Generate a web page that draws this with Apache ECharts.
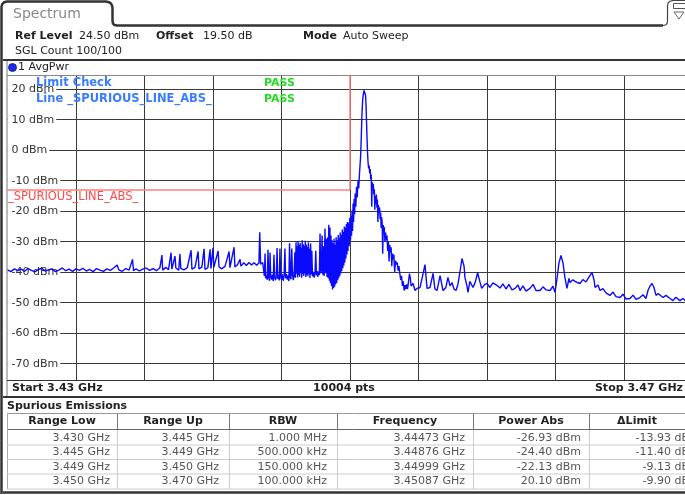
<!DOCTYPE html>
<html>
<head>
<meta charset="utf-8">
<script src="https://cdn.jsdelivr.net/npm/echarts@6/dist/echarts.min.js"></script>
<style>
  html, body { margin: 0; padding: 0; background: #fff; overflow: hidden; }
  #c { width: 700px; height: 495px; }
</style>
</head>
<body>
<div id="c"></div>
<script>
// Sweep: 3.43 GHz .. 3.47 GHz, level axis 24.5 dBm (ref) down 100 dB
const startMHz = 3430;
const stopMHz = 3470;
const refLevel = 24.5;
const levelBottom = -75.5;
const xGridMHz = [3434, 3438, 3442, 3446, 3450, 3454, 3458, 3462, 3466];
const yTicks = [-70, -60, -50, -40, -30, -20, -10, 0, 10, 20];

// Spurious emission ranges and results
const rangeLowGHz = [3.430, 3.445, 3.449, 3.450];
const rangeUpGHz = [3.445, 3.449, 3.450, 3.470];
const rbwLabels = ['1.000 MHz', '500.000 kHz', '150.000 kHz', '100.000 kHz'];
const spurFreqGHz = [3.44473, 3.44876, 3.44999, 3.45087];
const spurPowerDbm = [-26.93, -24.40, -22.13, 20.10];
const rangeLimitDbm = [-13, -13, -13, 30];

// AvgPwr trace [MHz, dBm], 1 MHz RBW range
const traceA = [
  [3430.0,-39.2],[3430.2,-39.8],[3430.4,-38.9],[3430.6,-39.5],[3430.8,-39.0],[3431.0,-39.7],
  [3431.2,-38.8],[3431.4,-39.4],[3431.6,-39.9],[3431.8,-39.1],[3432.0,-38.7],[3432.2,-39.6],
  [3432.4,-39.2],[3432.6,-38.9],[3432.8,-39.8],[3433.0,-39.3],[3433.2,-38.6],[3433.4,-39.5],
  [3433.6,-39.0],[3433.8,-39.7],[3434.0,-38.9],[3434.2,-39.4],[3434.4,-38.7],[3434.6,-39.6],
  [3434.8,-39.1],[3435.0,-39.8],[3435.2,-38.8],[3435.4,-39.3],[3435.6,-39.7],[3435.8,-38.9],
  [3436.0,-39.4],[3436.2,-38.6],[3436.4,-37.6],[3436.5,-39.2],[3436.7,-39.7],[3436.9,-38.8],
  [3437.1,-39.3],[3437.3,-35.8],[3437.36,-39.5],[3437.5,-38.9],[3437.7,-39.6],[3437.9,-39.0],
  [3438.1,-38.6],[3438.3,-39.4],[3438.5,-38.8],[3438.7,-39.5],[3438.9,-38.5],[3439.02,-34.4],
  [3439.06,-39.3],[3439.25,-38.4],[3439.4,-39.2],[3439.55,-33.6],[3439.6,-39.0],[3439.78,-34.7],
  [3439.83,-38.6],[3440.0,-39.3],[3440.07,-34.0],[3440.12,-38.7],[3440.3,-39.2],[3440.5,-38.5],
  [3440.72,-32.8],[3440.77,-39.0],[3440.95,-38.4],[3441.13,-33.2],[3441.18,-38.9],[3441.35,-38.3],
  [3441.48,-32.3],[3441.53,-39.1],[3441.7,-38.5],[3441.83,-32.5],[3441.88,-38.8],[3442.0,-32.0],
  [3442.05,-38.4],[3442.15,-39.0],[3442.3,-33.0],[3442.35,-38.2],[3442.5,-38.9],[3442.7,-38.1],
  [3442.94,-33.2],[3442.99,-38.5],[3443.1,-37.9],[3443.23,-31.8],[3443.28,-38.3],[3443.45,-37.4],
  [3443.58,-35.8],[3443.63,-38.0],[3443.8,-36.9],[3443.95,-37.8],[3444.1,-36.8],[3444.25,-37.6],
  [3444.4,-36.9],[3444.55,-37.7],[3444.68,-37.0],[3444.78,-37.4],[3444.9,-36.8],[3444.98,-37.3]
];

// 500 kHz and 150 kHz RBW ranges
const traceB = [
  [3445.00,-41.2],[3445.04,-33.9],[3445.07,-42.0],[3445.12,-41.0],[3445.17,-42.5],[3445.21,-32.6],
  [3445.25,-41.6],[3445.30,-42.8],[3445.33,-33.5],[3445.37,-41.3],[3445.42,-42.4],[3445.47,-40.8],
  [3445.52,-42.9],[3445.56,-34.3],[3445.60,-41.7],[3445.66,-42.6],[3445.70,-41.0],[3445.74,-32.1],
  [3445.78,-42.2],[3445.83,-40.9],[3445.87,-42.7],[3445.91,-32.2],[3445.95,-41.4],[3446.00,-42.5],
  [3446.05,-40.7],[3446.10,-42.8],[3446.15,-41.2],[3446.20,-32.2],[3446.24,-42.0],[3446.29,-40.6],
  [3446.34,-42.4],[3446.39,-41.1],[3446.43,-42.9],[3446.47,-30.5],[3446.51,-41.5],[3446.55,-42.3],
  [3446.60,-32.2],[3446.64,-40.8],[3446.69,-42.6],[3446.73,-41.0],[3446.78,-33.5],[3446.81,-41.8],
  [3446.85,-30.2],[3446.88,-40.5],[3446.91,-31.5],[3446.94,-41.7],[3446.97,-29.8],[3447.00,-40.9],
  [3447.03,-31.0],[3447.06,-41.5],[3447.09,-30.4],[3447.12,-40.2],[3447.15,-32.0],[3447.18,-41.8],
  [3447.21,-29.5],[3447.24,-40.6],[3447.27,-30.8],[3447.30,-41.2],[3447.33,-31.4],[3447.36,-40.4],
  [3447.39,-29.7],[3447.42,-41.6],[3447.45,-30.9],[3447.48,-40.8],[3447.51,-31.7],[3447.54,-41.3],
  [3447.57,-30.2],[3447.60,-40.5],[3447.63,-32.3],[3447.66,-41.9],[3447.70,-30.6],[3447.73,-40.7],
  [3447.77,-33.0],[3447.81,-41.4],[3447.86,-39.9],[3447.91,-41.8],[3447.96,-40.2],[3448.00,-33.0],
  [3448.04,-41.0],[3448.08,-39.6],[3448.12,-41.5],[3448.16,-39.8],[3448.21,-40.9],[3448.25,-27.3],
  [3448.29,-40.4],[3448.33,-39.2],[3448.37,-28.0],[3448.41,-40.8],[3448.45,-31.5],[3448.49,-41.2],
  [3448.54,-25.7],[3448.58,-40.3],[3448.62,-29.0],[3448.66,-41.6],[3448.70,-28.5],[3448.73,-42.0],
  [3448.80,-42.8],[3448.83,-25.3],[3448.86,-43.6],[3448.89,-28.0],[3448.92,-44.5],[3448.95,-29.5],
  [3448.98,-45.7],[3449.01,-30.5],[3449.04,-45.2],[3449.07,-29.0],[3449.10,-44.8],[3449.13,-31.0],
  [3449.16,-44.0],[3449.19,-28.5],[3449.22,-43.5],[3449.25,-29.5],[3449.28,-42.6],[3449.31,-27.8],
  [3449.34,-42.0],[3449.37,-28.8],[3449.40,-41.2],[3449.43,-27.0],[3449.46,-40.5],[3449.49,-27.8],
  [3449.52,-39.6],[3449.55,-26.0],[3449.58,-38.7],[3449.61,-26.8],[3449.64,-37.8],[3449.67,-25.0],
  [3449.70,-36.8],[3449.73,-25.5],[3449.76,-35.5],[3449.79,-24.2],[3449.82,-34.2],[3449.85,-23.5],
  [3449.88,-33.0],[3449.91,-23.8],[3449.94,-31.5],[3449.97,-29.8]
];

// Carrier and its skirt, 100 kHz RBW range
const traceC = [
  [3450.03,-29.5],[3450.06,-21.5],[3450.09,-28.0],[3450.12,-19.8],[3450.15,-26.5],[3450.18,-17.5],
  [3450.21,-23.5],[3450.24,-16.0],[3450.27,-21.0],[3450.30,-14.2],[3450.34,-18.5],[3450.38,-12.0],
  [3450.42,-15.5],[3450.47,-9.9],[3450.51,-12.5],[3450.55,-8.0],[3450.59,-7.6],[3450.62,-2.0],
  [3450.66,4.5],[3450.70,12.0],[3450.74,16.5],[3450.78,18.5],[3450.82,19.6],[3450.91,18.0],
  [3450.94,14.0],[3450.97,8.5],[3451.00,3.0],[3451.03,-1.5],[3451.06,-4.5],[3451.09,-6.0],
  [3451.12,-5.0],[3451.15,-7.5],[3451.18,-6.2],[3451.21,-9.5],[3451.24,-8.0],[3451.27,-18.5],
  [3451.30,-10.5],[3451.33,-12.8],[3451.36,-11.0],[3451.39,-14.5],[3451.42,-12.8],[3451.45,-19.5],
  [3451.48,-15.0],[3451.51,-17.5],[3451.54,-14.5],[3451.57,-18.8],[3451.60,-16.2],[3451.63,-23.5],
  [3451.66,-18.0],[3451.70,-20.5],[3451.73,-18.8],[3451.76,-22.5],[3451.79,-20.5],[3451.82,-25.5],
  [3451.85,-22.0],[3451.88,-24.0],[3451.91,-33.9],[3451.94,-24.5],[3451.97,-26.8],[3452.00,-25.2],
  [3452.04,-30.0],[3452.08,-27.0],[3452.12,-29.5],[3452.16,-28.0],[3452.20,-33.0],[3452.24,-29.8],
  [3452.28,-36.5],[3452.32,-31.0],[3452.36,-33.5],[3452.40,-31.8],[3452.44,-38.0],[3452.48,-33.9],
  [3452.52,-35.8],[3452.56,-34.2],[3452.61,-40.0],[3452.66,-36.2],[3452.71,-37.5],[3452.76,-36.8],
  [3452.81,-39.5],[3452.86,-38.0],[3452.91,-40.5],[3452.96,-42.5],[3453.01,-41.2],[3453.06,-44.5],
  [3453.11,-43.0],[3453.16,-46.0],[3453.21,-44.2],[3453.26,-45.5],[3453.31,-44.0],[3453.36,-45.5],
  [3453.42,-43.0],[3453.47,-40.5],[3453.52,-41.8],[3453.57,-44.5]
];

// Upper part of the sweep
const traceD = [
  [3453.68,-43.7],[3453.80,-46.0],[3453.91,-45.3],[3454.09,-45.0],[3454.20,-44.5],[3454.38,-37.5],
  [3454.50,-45.3],[3454.67,-45.0],[3454.85,-40.4],[3454.96,-45.5],[3455.08,-46.0],[3455.26,-41.1],
  [3455.43,-46.0],[3455.60,-45.0],[3455.72,-41.7],[3455.84,-44.5],[3455.96,-43.4],[3456.07,-45.5],
  [3456.19,-46.0],[3456.30,-44.0],[3456.42,-40.0],[3456.54,-35.5],[3456.66,-38.0],[3456.71,-41.7],
  [3456.83,-44.5],[3456.89,-46.6],[3457.00,-43.0],[3457.07,-42.7],[3457.18,-45.0],[3457.30,-43.5],
  [3457.42,-41.0],[3457.45,-40.1],[3457.58,-43.0],[3457.69,-45.3],[3457.87,-44.0],[3458.00,-43.7],
  [3458.17,-45.0],[3458.35,-43.5],[3458.58,-44.3],[3458.76,-45.2],[3458.93,-43.8],[3459.11,-45.5],
  [3459.28,-44.0],[3459.46,-45.8],[3459.64,-45.3],[3459.81,-44.2],[3459.93,-46.0],[3460.10,-44.5],
  [3460.28,-46.2],[3460.51,-45.3],[3460.69,-44.0],[3460.86,-46.0],[3461.10,-46.0],[3461.27,-44.8],
  [3461.45,-45.8],[3461.68,-46.0],[3461.85,-44.6],[3461.97,-46.6],[3462.09,-42.0],[3462.20,-37.0],
  [3462.32,-34.5],[3462.44,-37.0],[3462.55,-41.7],[3462.67,-45.3],[3462.79,-42.0],[3462.85,-43.4],
  [3463.02,-42.5],[3463.20,-43.2],[3463.43,-43.7],[3463.60,-42.4],[3463.78,-43.2],[3463.96,-41.5],
  [3464.13,-40.1],[3464.25,-42.5],[3464.31,-45.0],[3464.48,-44.2],[3464.60,-46.0],[3464.77,-45.4],
  [3464.95,-46.8],[3465.18,-47.6],[3465.36,-46.5],[3465.53,-48.0],[3465.77,-48.3],[3465.94,-47.2],
  [3466.12,-48.8],[3466.35,-48.6],[3466.53,-47.5],[3466.70,-48.9],[3466.93,-48.3],[3467.11,-47.4],
  [3467.28,-48.6],[3467.40,-46.0],[3467.52,-44.5],[3467.64,-43.7],[3467.75,-45.0],[3467.87,-47.6],
  [3467.99,-47.0],[3468.10,-47.0],[3468.28,-48.3],[3468.45,-47.6],[3468.69,-48.6],[3468.86,-49.3],
  [3469.03,-48.2],[3469.27,-49.3],[3469.44,-48.6],[3469.62,-49.5],[3469.85,-48.8],[3470.00,-49.2]
];

// Trace = sweep points plus the peak found in each range
const spurPoints = spurFreqGHz.map((f, i) => [Math.round(f * 100000) / 100, spurPowerDbm[i]]);
const trace = traceA.concat(traceB, traceC, traceD, spurPoints).sort((a, b) => a[0] - b[0]);

// Limit line built from the range table
const limitLine = [];
rangeLowGHz.forEach((lo, i) => {
  limitLine.push([Math.round(lo * 1000), rangeLimitDbm[i]]);
  limitLine.push([Math.round(rangeUpGHz[i] * 1000), rangeLimitDbm[i]]);
});

const FONT = 'DejaVu Sans';
const chart = echarts.init(document.getElementById('c'), null, { renderer: 'canvas', width: 700, height: 495 });

function txt(x, y, s, opt) {
  opt = opt || {};
  return {
    type: 'text', x: x, y: y, z: opt.z || 50, silent: true,
    style: {
      text: s, fill: opt.color || '#222', font: (opt.bold ? 'bold ' : '') + (opt.size || 11) + 'px "' + FONT + '"',
      textAlign: opt.align || 'left', textVerticalAlign: 'middle'
    }
  };
}
function hline(x1, x2, y, color, w) {
  return { type: 'line', z: 40, silent: true, shape: { x1: x1, y1: y, x2: x2, y2: y }, style: { stroke: color, lineWidth: w || 1 } };
}
function vline(x, y1, y2, color, w) {
  return { type: 'line', z: 40, silent: true, shape: { x1: x, y1: y1, x2: x, y2: y2 }, style: { stroke: color, lineWidth: w || 1 } };
}
function poly(points, color, w) {
  return { type: 'polyline', z: 40, silent: true, shape: { points: points }, style: { stroke: color, lineWidth: w, fill: null } };
}

const g = [];
// frame and tab outline
g.push(poly([[1.5, 494], [1.5, 7], [2.2, 4.2], [3.1, 3.1], [4.2, 2.2], [7, 1.5], [106, 1.5], [109, 2.2], [111, 3.6],
  [112.2, 5.8], [112.5, 8], [112.5, 21], [113, 23.6], [114.5, 25], [117, 25.5], [663, 25.5]], '#333', 2.5));
g.push(poly([[663, 25.5], [666, 24.8], [667.3, 22.8], [667.5, 20], [667.5, 6], [668, 3], [670, 1.2], [673, 0.5], [700, 0.5]], '#444', 1.2));
g.push({ type: 'rect', z: 41, silent: true, shape: { x: 673.5, y: 3.5, width: 12, height: 5 }, style: { fill: '#fff', stroke: '#555', lineWidth: 1 } });
g.push(vline(677.5, 4, 8, '#555'), vline(681.5, 4, 8, '#555'));
g.push({ type: 'polygon', z: 41, silent: true, shape: { points: [[674, 12], [684, 12], [679, 19]] }, style: { fill: '#fff', stroke: '#666', lineWidth: 1 } });
g.push(txt(13, 14, 'Spectrum', { size: 14, color: '#888' }));

// setting header
g.push(txt(15, 36, 'Ref Level', { bold: true }), txt(79, 36, '24.50 dBm'));
g.push(txt(156, 36, 'Offset', { bold: true }), txt(203, 36, '19.50 dB'));
g.push(txt(303, 36, 'Mode', { bold: true }), txt(343, 36, 'Auto Sweep'));
g.push(txt(15, 51, 'SGL Count 100/100'));
g.push(hline(3, 700, 60, '#333', 2));

// trace title row
g.push({ type: 'circle', z: 45, silent: true, shape: { cx: 12.5, cy: 67.5, r: 4 }, style: { fill: '#1b2cf0', stroke: '#0a1380', lineWidth: 0.8 } });
g.push(txt(18, 67.5, '1 AvgPwr'));
g.push(vline(7, 61, 396, '#777', 1));
g.push(hline(7, 700, 75.5, '#888', 1));
g.push(hline(7, 700, 380.5, '#333', 1.2));

// limit check messages
g.push(txt(36, 83, 'Limit Check', { color: '#3a7cff', bold: true, size: 11.5, z: 60 }));
g.push(txt(36, 99, 'Line _SPURIOUS_LINE_ABS_', { color: '#3a7cff', bold: true, size: 11.5, z: 60 }));
g.push(txt(264, 83, 'PASS', { color: '#22dd22', bold: true, z: 60 }));
g.push(txt(264, 99, 'PASS', { color: '#22dd22', bold: true, z: 60 }));
g.push(txt(8, 197, '_SPURIOUS_LINE_ABS_', { color: '#ff4a4a', size: 11.5, z: 60 }));

// footer
g.push(txt(12, 388, 'Start ' + (startMHz / 1000).toFixed(2) + ' GHz', { bold: true }));
g.push(txt(344, 388, '10004 pts', { bold: true, align: 'center' }));
g.push(txt(683, 388, 'Stop ' + (stopMHz / 1000).toFixed(2) + ' GHz', { bold: true, align: 'right' }));
g.push(hline(3, 700, 397, '#333', 2));

// spurious emissions table
g.push(txt(7, 406, 'Spurious Emissions', { bold: true }));
const colEdges = [7, 117, 229, 337, 473, 589, 697];
const colCenters = [62, 173, 283, 405, 531, 637];
const colRight = [110, 219, 327, 465, 581, 689];
const headers = ['Range Low', 'Range Up', 'RBW', 'Frequency', 'Power Abs', '\u0394Limit'];
g.push(hline(7, 700, 413.5, '#999', 1));
g.push(hline(7, 700, 429.5, '#666', 1));
headers.forEach((h, i) => g.push(txt(colCenters[i], 421.5, h, { bold: true, color: '#222', align: 'center' })));
colEdges.slice(1, 6).forEach(x => {
  g.push(vline(x + 0.5, 414, 429, '#777'));
  g.push(vline(x + 0.5, 430, 489, '#ccc'));
});
g.push(vline(7.5, 413, 489, '#aaa'));
const rowY = [438, 452.5, 467, 481.5];
const rowLines = [445, 459.5, 474, 489];
rowY.forEach((y, r) => {
  const cells = [
    rangeLowGHz[r].toFixed(3) + ' GHz',
    rangeUpGHz[r].toFixed(3) + ' GHz',
    rbwLabels[r],
    spurFreqGHz[r].toFixed(5) + ' GHz',
    spurPowerDbm[r].toFixed(2) + ' dBm',
    (spurPowerDbm[r] - rangeLimitDbm[r]).toFixed(2) + ' dB'
  ];
  cells.forEach((c, i) => g.push(txt(colRight[i], y, c, { color: '#555', align: 'right' })));
  g.push(hline(7, 700, rowLines[r], '#ccc', 1));
});
g.push(hline(3, 700, 492.5, '#333', 2.5));

const option = {
  animation: false,
  backgroundColor: '#fff',
  grid: { left: 7.5, top: 75.5, width: 685, height: 305, containLabel: false },
  xAxis: {
    type: 'value', min: startMHz, max: stopMHz,
    axisLine: { show: false }, axisLabel: { show: false },
    axisTick: { show: false, customValues: xGridMHz },
    splitLine: { show: true, lineStyle: { color: '#3a3a3a', width: 1 } }
  },
  yAxis: [{
    type: 'value', min: levelBottom, max: refLevel,
    axisLine: { show: false }, axisLabel: { show: false },
    axisTick: { show: false, customValues: yTicks },
    splitLine: { show: true, lineStyle: { color: '#3a3a3a', width: 1 } }
  }, {
    type: 'value', min: levelBottom, max: refLevel, position: 'left', z: 1,
    axisLine: { show: false }, splitLine: { show: false },
    axisTick: { show: false, customValues: yTicks },
    axisLabel: {
      show: true, customValues: yTicks, inside: true, margin: 0, align: 'left',
      formatter: v => v + ' dBm', color: '#333', fontSize: 11, fontFamily: FONT,
      backgroundColor: '#fff', padding: [0, 2, 0, 4]
    }
  }],
  series: [{
    name: 'limit', type: 'line', data: limitLine, symbol: 'none', z: 2, silent: true,
    lineStyle: { color: '#ff7f7f', width: 1.5 }
  }, {
    name: '1 AvgPwr', type: 'line', data: trace, symbol: 'none', z: 3, silent: true, sampling: null,
    lineStyle: { color: '#0a0aff', width: 1.4 }
  }],
  graphic: g
};
chart.setOption(option);
</script>
</body>
</html>
